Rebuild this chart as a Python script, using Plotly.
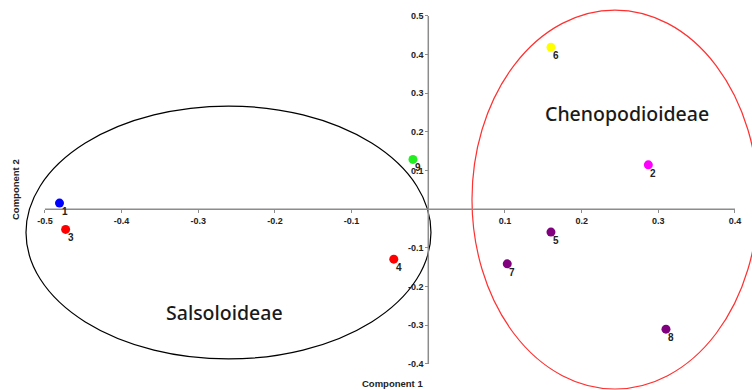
import plotly.graph_objects as go

# Data
sample_ids = ["1", "2", "3", "4", "5", "6", "7", "8", "9"]
comp1 = [-0.481, 0.287, -0.473, -0.045, 0.160, 0.160, 0.103, 0.310, -0.020]
comp2 = [0.016, 0.115, -0.052, -0.129, -0.059, 0.419, -0.141, -0.310, 0.129]
point_colors = ["#0000ff", "#ff00ff", "#ff0000", "#ff0000", "#800080",
                "#ffff00", "#800080", "#800080", "#22ee22"]

x_ticks = [-0.5, -0.4, -0.3, -0.2, -0.1, 0.1, 0.2, 0.3, 0.4]
x_tick_text = ["-0.5", "-0.4", "-0.3", "-0.2", "-0.1", "0.1", "0.2", "0.3", "0.4"]
y_ticks = [-0.4, -0.3, -0.2, -0.1, 0.1, 0.2, 0.3, 0.4, 0.5]
y_tick_text = ["-0.4", "-0.3", "-0.2", "-0.1", "0.1", "0.2", "0.3", "0.4", "0.5"]

# Group ellipses (center x, center y, half-width, half-height)
groups = ["Salsoloideae", "Chenopodioideae"]
ell_cx = [-0.2606, 0.2435]
ell_cy = [-0.060, 0.0253]
ell_rx = [0.2641, 0.1865]
ell_ry = [0.327, 0.490]
ell_colors = ["#000000", "#ff3030"]
label_x = [-0.2656, 0.2592]
label_y = [-0.2656, 0.2490]

X_RANGE = [-0.5586, 0.4222]
Y_RANGE = [-0.4673, 0.5413]

fig = go.Figure()

fig.add_trace(go.Scatter(
    x=comp1, y=comp2, mode="markers",
    marker=dict(size=9, color=point_colors, line=dict(width=0)),
    hoverinfo="skip", showlegend=False, cliponaxis=False,
))

shapes = []
for cx, cy, rx, ry, col in zip(ell_cx, ell_cy, ell_rx, ell_ry, ell_colors):
    shapes.append(dict(type="circle", xref="x", yref="y",
                       x0=cx - rx, x1=cx + rx, y0=cy - ry, y1=cy + ry,
                       line=dict(color=col, width=1.2), layer="below"))
# axis lines crossing at origin
shapes.append(dict(type="line", xref="x", yref="y", x0=x_ticks[0], x1=x_ticks[-1],
                   y0=0, y1=0, line=dict(color="#8c8c8c", width=1.5), layer="below"))
shapes.append(dict(type="line", xref="x", yref="y", x0=0, x1=0,
                   y0=y_ticks[0], y1=y_ticks[-1], line=dict(color="#8c8c8c", width=1.5),
                   layer="below"))

annotations = []
for sid, px, py in zip(sample_ids, comp1, comp2):
    annotations.append(dict(x=px, y=py, xref="x", yref="y", text="<b>" + sid + "</b>",
                            showarrow=False, xanchor="left", yanchor="top",
                            xshift=0, yshift=-1,
                            font=dict(family="Liberation Sans", size=10, color="#222222")))
for g, lx, ly in zip(groups, label_x, label_y):
    annotations.append(dict(x=lx, y=ly, xref="x", yref="y", text=g, showarrow=False,
                            xanchor="center", yanchor="middle",
                            font=dict(family="Noto Sans", size=19.5, color="#1a1a1a",
                                      weight=500)))
annotations.append(dict(x=392 / 752, y=(390 - 383) / 390, xref="paper", yref="paper",
                        xanchor="center", yanchor="middle",
                        text="<b>Component 1</b>", showarrow=False,
                        font=dict(family="Liberation Sans", size=9.5, color="#222222")))
annotations.append(dict(x=15 / 752, y=(390 - 190) / 390, xref="paper", yref="paper",
                        xanchor="center", yanchor="middle",
                        text="<b>Component 2</b>", showarrow=False, textangle=-90,
                        font=dict(family="Liberation Sans", size=9.5, color="#222222")))

x_pos = (0 - Y_RANGE[0]) / (Y_RANGE[1] - Y_RANGE[0])
y_pos = (0 - X_RANGE[0]) / (X_RANGE[1] - X_RANGE[0])

fig.update_layout(
    width=752, height=390,
    margin=dict(l=0, r=0, t=0, b=0, pad=0),
    paper_bgcolor="white", plot_bgcolor="white",
    shapes=shapes, annotations=annotations,
    xaxis=dict(range=X_RANGE, anchor="free", position=x_pos, side="bottom",
               automargin=False,
               showgrid=False, zeroline=False, showline=False,
               tickmode="array", tickvals=x_ticks, ticktext=x_tick_text,
               ticks="outside", ticklen=3, tickwidth=1, tickcolor="#8c8c8c",
               tickfont=dict(family="Liberation Sans", size=9, color="#222222", weight="bold")),
    yaxis=dict(range=Y_RANGE, anchor="free", position=y_pos, side="left",
               automargin=False,
               showgrid=False, zeroline=False, showline=False,
               tickmode="array", tickvals=y_ticks, ticktext=y_tick_text,
               ticks="outside", ticklen=3, tickwidth=1, tickcolor="#8c8c8c",
               tickfont=dict(family="Liberation Sans", size=9, color="#222222", weight="bold")),
)

fig.write_html("out.html", config={"displayModeBar": False},
               post_script="document.body.style.margin='0';")
